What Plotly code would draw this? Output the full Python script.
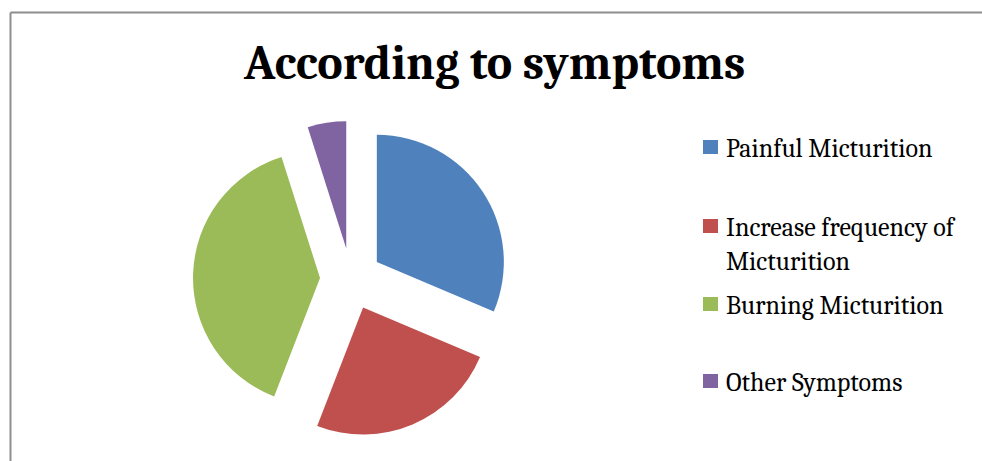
import plotly.graph_objects as go

W, H = 982, 461

# Symptom counts
labels = ["Painful Micturition", "Increase frequency of Micturition",
          "Burning Micturition", "Other Symptoms"]
legend_text = ["Painful Micturition", "Increase frequency of<br>Micturition",
               "Burning Micturition", "Other Symptoms"]
counts = [32, 25, 40, 5]
colors = ["#4F81BD", "#C0504D", "#9BBB59", "#8064A2"]

serif = "Cambria, 'Liberation Serif', 'DejaVu Serif', serif"


def px_x(x):
    return x / W


def px_y(y):
    return 1 - y / H


fig = go.Figure()
fig.add_trace(go.Pie(
    labels=labels,
    values=counts,
    marker=dict(colors=colors, line=dict(width=0)),
    sort=False,
    direction="clockwise",
    rotation=0,
    pull=[0.244] * len(counts),
    textinfo="none",
    hoverinfo="label+value+percent",
    showlegend=False,
    domain=dict(x=[px_x(193), px_x(509)], y=[px_y(437), px_y(121)]),
))

shapes = [
    # chart frame (top and left edges)
    dict(type="line", xref="paper", yref="paper",
         x0=px_x(10.5), x1=1.0, y0=px_y(12.5), y1=px_y(12.5),
         line=dict(color="#8e8e8e", width=2)),
    dict(type="line", xref="paper", yref="paper",
         x0=px_x(10.5), x1=px_x(10.5), y0=0, y1=px_y(12.5),
         line=dict(color="#8e8e8e", width=2)),
]

annotations = [
    dict(text="<b>According to symptoms</b>", x=px_x(494), y=px_y(63),
         xref="paper", yref="paper", xanchor="center", yanchor="middle",
         showarrow=False, font=dict(family=serif, size=48, color="#000000")),
]

# Legend: square swatch plus label for each slice
legend_y = [147, 226, 304, 381]
for name, col, yc in zip(legend_text, colors, legend_y):
    shapes.append(dict(type="rect", xref="paper", yref="paper",
                       x0=px_x(703), x1=px_x(718),
                       y0=px_y(yc + 7), y1=px_y(yc - 7),
                       fillcolor=col, line=dict(width=0)))
    annotations.append(dict(text=name, x=px_x(724), y=px_y(yc - 15),
                            xref="paper", yref="paper",
                            xanchor="left", yanchor="top", align="left",
                            showarrow=False,
                            font=dict(family=serif, size=26, color="#000000")))

fig.update_layout(
    width=W, height=H,
    margin=dict(l=0, r=0, t=0, b=0),
    paper_bgcolor="#ffffff",
    plot_bgcolor="#ffffff",
    shapes=shapes,
    annotations=annotations,
)

fig.write_html("out.html")
